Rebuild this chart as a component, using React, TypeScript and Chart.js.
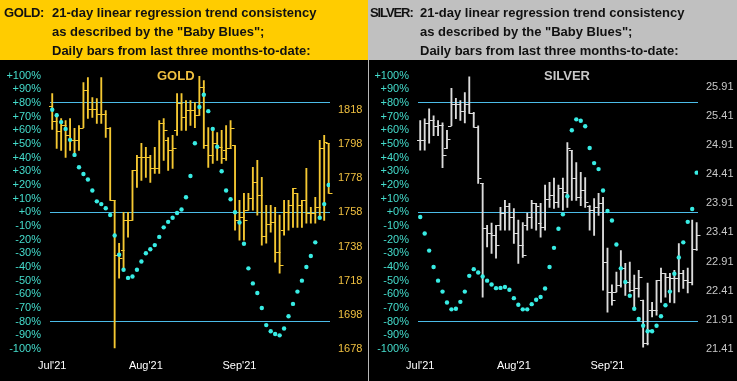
import React, { useEffect, useRef } from "react";
import { Chart, registerables } from "chart.js";
Chart.register(...registerables);

const FONT = '"Liberation Sans", Arial, sans-serif';

// ---- shared axis data ----
const monthLabels = ["Jul'21", "Aug'21", "Sep'21"];
const monthTickIndex = [0, 21, 42];
const trendLines = [80, 0, -80];

// ---- GOLD ----
const goldHigh = [1827.5, 1815.8, 1812.9, 1811.7, 1812.9, 1807.1, 1808.8, 1833.9, 1836.8, 1825.2,
  1824.6, 1836.8, 1817.6, 1807.6, 1765.0, 1739.9, 1758.0, 1758.0, 1782.5, 1791.3,
  1798.3, 1796.0, 1791.3, 1796.0, 1811.7, 1812.9, 1801.8, 1803.0, 1827.5, 1827.5,
  1823.4, 1823.4, 1822.2, 1837.5, 1835.1, 1807.6, 1805.9, 1804.7, 1805.9, 1808.8,
  1811.7, 1797.1, 1765.0, 1769.1, 1769.1, 1784.3, 1788.4, 1778.4, 1762.1, 1762.1,
  1760.9, 1756.3, 1765.0, 1765.0, 1772.0, 1769.1, 1765.0, 1783.7, 1760.9, 1766.8,
  1800.1, 1803.0, 1798.3];
const goldLow = [1806.5, 1795.4, 1794.2, 1790.1, 1794.2, 1791.3, 1794.2, 1807.6, 1812.9, 1813.5,
  1810.0, 1810.0, 1801.8, 1765.0, 1678.6, 1719.5, 1725.3, 1743.4, 1753.3, 1772.6,
  1776.7, 1778.4, 1775.5, 1780.8, 1780.8, 1788.4, 1782.5, 1783.7, 1803.0, 1805.9,
  1805.9, 1808.8, 1807.6, 1814.7, 1795.4, 1784.3, 1786.6, 1788.4, 1786.6, 1788.4,
  1795.4, 1747.5, 1741.7, 1741.7, 1759.2, 1759.2, 1756.3, 1738.7, 1739.9, 1746.3,
  1728.8, 1722.4, 1744.6, 1747.5, 1749.2, 1749.2, 1749.2, 1751.6, 1751.6, 1751.6,
  1755.1, 1753.3, 1769.1];
const goldOpen = [1820.5, 1811.2, 1805.3, 1808.8, 1803.0, 1800.1, 1800.1, 1807.6, 1829.3, 1818.2,
  1818.2, 1815.8, 1815.8, 1807.6, 1765.0, 1732.9, 1735.8, 1753.3, 1753.3, 1782.5,
  1790.1, 1790.1, 1790.1, 1783.7, 1783.7, 1810.0, 1800.1, 1794.2, 1805.9, 1822.2,
  1813.5, 1817.6, 1817.6, 1814.7, 1831.6, 1797.1, 1791.3, 1798.3, 1796.0, 1794.2,
  1795.4, 1797.1, 1753.3, 1755.1, 1759.2, 1766.2, 1775.5, 1767.9, 1744.0, 1751.0,
  1752.2, 1734.6, 1747.5, 1758.0, 1762.1, 1769.1, 1762.1, 1765.0, 1757.4, 1757.4,
  1760.9, 1795.4, 1798.3];
const goldClose = [1811.7, 1805.3, 1808.8, 1803.0, 1800.1, 1800.1, 1807.6, 1829.3, 1818.2, 1818.2,
  1815.8, 1815.8, 1807.6, 1765.0, 1732.9, 1731.1, 1753.3, 1753.3, 1782.5, 1790.1,
  1790.1, 1790.1, 1783.7, 1783.7, 1810.0, 1805.9, 1794.2, 1795.4, 1822.2, 1813.5,
  1817.6, 1817.6, 1814.7, 1831.6, 1797.1, 1791.3, 1798.3, 1796.0, 1789.5, 1795.4,
  1807.6, 1753.3, 1755.1, 1753.3, 1766.2, 1775.5, 1767.9, 1744.0, 1751.0, 1752.2,
  1734.6, 1727.1, 1758.0, 1762.1, 1772.0, 1762.1, 1765.0, 1757.4, 1757.4, 1760.9,
  1795.4, 1798.9, 1769.1];
const goldBlues = [75, 71, 66, 61, 53, 42, 33, 28, 24, 16,
  8, 6, 3, -2, -17, -31, -42, -48, -47, -42,
  -36, -30, -27, -24, -18, -11, -7, -4, -0.5, 2,
  11, 26.5, 50.5, 77, 86, 74, 61, 48, 30, 16,
  9.5, 0, -7.5, -23, -41, -52, -59, -70, -82.5, -87,
  -89, -90, -85, -76, -67, -58, -50, -40, -32, -22,
  -4, 6, 20];
const goldPriceTicks = [1678, 1698, 1718, 1738, 1758, 1778, 1798, 1818];
const goldPriceMin = 1678;
const goldPriceMax = 1838;

// ---- SILVER ----
const silverHigh = [25.33, 25.36, 25.53, 25.41, 25.33, 25.29, 25.16, 25.88, 25.71, 25.67,
  25.81, 26.08, 25.47, 25.24, 24.25, 23.53, 23.57, 23.53, 23.84, 23.96,
  23.91, 23.82, 23.62, 23.58, 23.74, 23.96, 23.91, 23.91, 24.22, 24.27,
  24.34, 24.22, 24.34, 24.95, 24.82, 24.61, 24.44, 24.35, 23.87, 23.99,
  24.08, 24.01, 23.14, 22.51, 22.73, 23.10, 22.88, 22.90, 22.68, 22.76,
  22.25, 22.54, 22.21, 22.59, 22.80, 22.71, 22.71, 22.76, 23.22, 22.76,
  22.80, 23.62, 23.58];
const silverLow = [24.82, 24.82, 24.94, 25.07, 25.07, 24.52, 24.85, 25.24, 25.36, 25.33,
  25.29, 25.45, 25.21, 24.25, 22.30, 23.16, 23.05, 22.97, 23.45, 23.45,
  23.45, 23.22, 22.88, 22.98, 23.45, 23.48, 23.45, 23.33, 23.45, 23.84,
  23.82, 23.84, 23.79, 23.84, 23.96, 23.96, 23.87, 23.84, 23.45, 23.36,
  23.70, 22.42, 22.04, 22.16, 22.39, 22.47, 22.33, 22.39, 22.13, 22.30,
  21.44, 21.48, 21.96, 21.99, 22.21, 22.30, 22.21, 22.20, 22.39, 22.45,
  22.37, 22.51, 23.10];
const silverOpen = [24.99, 24.99, 25.29, 25.33, 25.24, 25.26, 24.85, 25.24, 25.62, 25.62,
  25.50, 25.62, 25.45, 25.21, 24.25, 23.48, 23.40, 23.36, 23.53, 23.75,
  23.87, 23.67, 23.40, 23.19, 23.53, 23.67, 23.91, 23.58, 23.50, 23.99,
  24.05, 23.93, 24.18, 24.10, 24.82, 24.35, 24.01, 24.13, 23.87, 23.79,
  23.84, 23.91, 22.90, 22.39, 22.39, 22.51, 22.80, 22.56, 22.42, 22.45,
  22.25, 21.51, 22.08, 22.08, 22.59, 22.71, 22.64, 22.63, 22.63, 22.71,
  22.59, 22.56, 23.12];
const silverClose = [24.99, 25.29, 25.33, 25.24, 25.26, 24.73, 25.02, 25.62, 25.62, 25.50,
  25.62, 25.45, 25.21, 24.35, 23.48, 23.40, 23.36, 23.19, 23.75, 23.87,
  23.67, 23.40, 23.19, 23.02, 23.67, 23.91, 23.87, 23.50, 23.99, 24.05,
  23.93, 24.18, 24.10, 24.85, 24.35, 24.01, 24.13, 23.93, 23.79, 23.84,
  23.91, 22.90, 22.39, 22.25, 22.51, 22.80, 22.56, 22.42, 22.45, 22.64,
  21.51, 21.74, 22.08, 22.59, 22.71, 22.64, 22.63, 22.63, 22.71, 22.59,
  22.56, 23.12, 23.36];
const silverBlues = [-3.4, -15.5, -28, -40, -50, -58, -66, -71, -70.6, -65.5,
  -58, -46.5, -41.6, -44, -47, -50, -52.8, -55.5, -55.3, -54.7,
  -56.7, -62.8, -67.6, -71, -71, -67.2, -64, -62, -55.7, -40,
  -26, -12, -1.5, 11.7, 60, 68, 67, 63, 47, 36,
  31.6, 16, 1, -6, -23.6, -41, -51, -61, -70.6, -78,
  -83, -87, -87, -83, -76, -68, -58, -45, -33, -22,
  -7, 2.4, 29];
const silverPriceTicks = [21.41, 21.91, 22.41, 22.91, 23.41, 23.91, 24.41, 24.91, 25.41, 25.91];
const silverPriceMin = 21.41;
const silverPriceMax = 26.1;

type PanelProps = {
  high: number[]; low: number[]; open: number[]; close: number[]; blues: number[];
  priceTicks: number[]; priceMin: number; priceMax: number; decimals: number;
  barColor: string; priceColor: string;
};

function pctLabel(v: number) {
  if (v > 0) return "+" + v + "%";
  if (v === 0) return "+0%";
  return v + "%";
}

function ChartPanel(p: PanelProps) {
  const ref = useRef<HTMLCanvasElement>(null);
  useEffect(() => {
    if (!ref.current) return;
    const barData = p.high.map((h, i) => ({ x: i, y: [p.low[i], h] }));
    const dotData = p.blues.map((v, i) => ({ x: i, y: v }));
    const ohlcTicks = {
      id: "ohlcTicks",
      beforeDatasetsDraw(chart: any) {
        const xs = chart.scales.x;
        const ys = chart.scales.y2;
        const ctx = chart.ctx;
        ctx.save();
        ctx.strokeStyle = p.barColor;
        ctx.lineWidth = 1;
        ctx.beginPath();
        for (let i = 0; i < p.open.length; i++) {
          const x = Math.round(xs.getPixelForValue(i));
          const yo = Math.round(ys.getPixelForValue(p.open[i])) + 0.5;
          const yc = Math.round(ys.getPixelForValue(p.close[i])) + 0.5;
          ctx.moveTo(x - 3, yo);
          ctx.lineTo(x + 0.5, yo);
          ctx.moveTo(x, yc);
          ctx.lineTo(x + 3.5, yc);
        }
        ctx.stroke();
        ctx.restore();
      },
    };
    const chart = new Chart(ref.current, {
      type: "bar",
      data: {
        datasets: [
          {
            type: "line",
            data: dotData as any,
            yAxisID: "y",
            xAxisID: "x",
            showLine: false,
            pointRadius: 2.2,
            pointBackgroundColor: "#38ece4",
            pointBorderWidth: 0,
            order: 1,
          } as any,
          {
            type: "bar",
            data: barData as any,
            yAxisID: "y2",
            xAxisID: "x",
            backgroundColor: p.barColor,
            borderWidth: 0,
            barThickness: 1.2,
            order: 2,
          } as any,
        ],
      },
      options: {
        animation: false,
        responsive: false,
        maintainAspectRatio: false,
        layout: { padding: { top: 15, bottom: 0, left: 0, right: 0 } },
        plugins: { legend: { display: false }, tooltip: { enabled: false }, title: { display: false } },
        scales: {
          x: {
            type: "linear",
            offset: false,
            min: -0.5,
            max: 62.3,
            grid: { display: false, drawTicks: false },
            border: { display: false },
            afterBuildTicks: (s: any) => {
              s.ticks = monthTickIndex.map((v) => ({ value: v }));
            },
            afterFit: (s: any) => {
              s.height = 32;
            },
            ticks: {
              autoSkip: false,
              maxRotation: 0,
              color: "#ffffff",
              padding: 10,
              font: { family: FONT, size: 11 },
              callback: (v: any) => {
                const k = monthTickIndex.indexOf(Number(v));
                return k >= 0 ? monthLabels[k] : "";
              },
            },
          },
          y: {
            type: "linear",
            position: "left",
            min: -100,
            max: 100,
            border: { display: false },
            grid: {
              drawTicks: false,
              lineWidth: 1,
              color: (c: any) => (c.tick && trendLines.includes(c.tick.value) ? "#4cbce8" : "rgba(0,0,0,0)"),
            },
            afterFit: (s: any) => {
              s.width = 50;
            },
            ticks: {
              stepSize: 10,
              autoSkip: false,
              color: "#44dccc",
              padding: 9,
              font: { family: FONT, size: 11 },
              callback: (v: any) => pctLabel(Number(v)),
            },
          },
          y2: {
            type: "linear",
            position: "right",
            min: p.priceMin,
            max: p.priceMax,
            border: { display: false },
            grid: { display: false, drawTicks: false },
            afterBuildTicks: (s: any) => {
              s.ticks = p.priceTicks.map((v) => ({ value: v }));
            },
            afterFit: (s: any) => {
              s.width = 38;
            },
            ticks: {
              autoSkip: false,
              color: p.priceColor,
              padding: 8,
              font: { family: FONT, size: 11 },
              callback: (v: any) => Number(v).toFixed(p.decimals),
            },
          },
        },
      } as any,
      plugins: [ohlcTicks],
    });
    return () => chart.destroy();
  }, []);
  return <canvas ref={ref} width={368} height={321} style={{ display: "block", width: 368, height: 321 }} />;
}

function Header(props: { bg: string; label: string; labelLeft: number; labelSpacing: number }) {
  const common: React.CSSProperties = {
    position: "absolute",
    top: 3,
    lineHeight: "19px",
    whiteSpace: "nowrap",
  };
  return (
    <div
      style={{
        position: "relative",
        height: 60,
        background: props.bg,
        color: "#111",
        font: `bold 13px ${FONT}`,
      }}
    >
      <div style={{ ...common, left: props.labelLeft, letterSpacing: props.labelSpacing }}>{props.label}</div>
      <div style={{ ...common, left: 52 }}>
        21-day linear regression trend consistency
        <br />
        as described by the "Baby Blues";
        <br />
        Daily bars from last three months-to-date:
      </div>
    </div>
  );
}

export default function App() {
  return (
    <div
      style={{
        position: "absolute",
        left: 0,
        top: 0,
        width: 737,
        height: 381,
        background: "#000",
        overflow: "hidden",
        fontFamily: FONT,
      }}
    >
      <div style={{ position: "absolute", left: 0, top: 0, width: 368, height: 381, background: "#000" }}>
        <Header bg="#ffcc00" label="GOLD:" labelLeft={4} labelSpacing={-0.4} />
        <ChartPanel
          high={goldHigh}
          low={goldLow}
          open={goldOpen}
          close={goldClose}
          blues={goldBlues}
          priceTicks={goldPriceTicks}
          priceMin={goldPriceMin}
          priceMax={goldPriceMax}
          decimals={0}
          barColor="#f5c832"
          priceColor="#f0c040"
        />
        <div
          style={{
            position: "absolute",
            left: 157,
            top: 68,
            font: `bold 13px ${FONT}`,
            color: "#f0c040",
            lineHeight: "16px",
          }}
        >
          GOLD
        </div>
      </div>
      <div style={{ position: "absolute", left: 368, top: 0, width: 369, height: 381, background: "#000" }}>
        <Header bg="#c0c0c0" label="SILVER:" labelLeft={2} labelSpacing={-1.1} />
        <ChartPanel
          high={silverHigh}
          low={silverLow}
          open={silverOpen}
          close={silverClose}
          blues={silverBlues}
          priceTicks={silverPriceTicks}
          priceMin={silverPriceMin}
          priceMax={silverPriceMax}
          decimals={2}
          barColor="#dcdcdc"
          priceColor="#c8c8c8"
        />
        <div
          style={{
            position: "absolute",
            left: 176,
            top: 68,
            font: `bold 13px ${FONT}`,
            color: "#c8c8c8",
            lineHeight: "16px",
          }}
        >
          SILVER
        </div>
        <div style={{ position: "absolute", left: 0, top: 60, width: 1, height: 321, background: "#b8b8b8" }} />
      </div>
    </div>
  );
}
